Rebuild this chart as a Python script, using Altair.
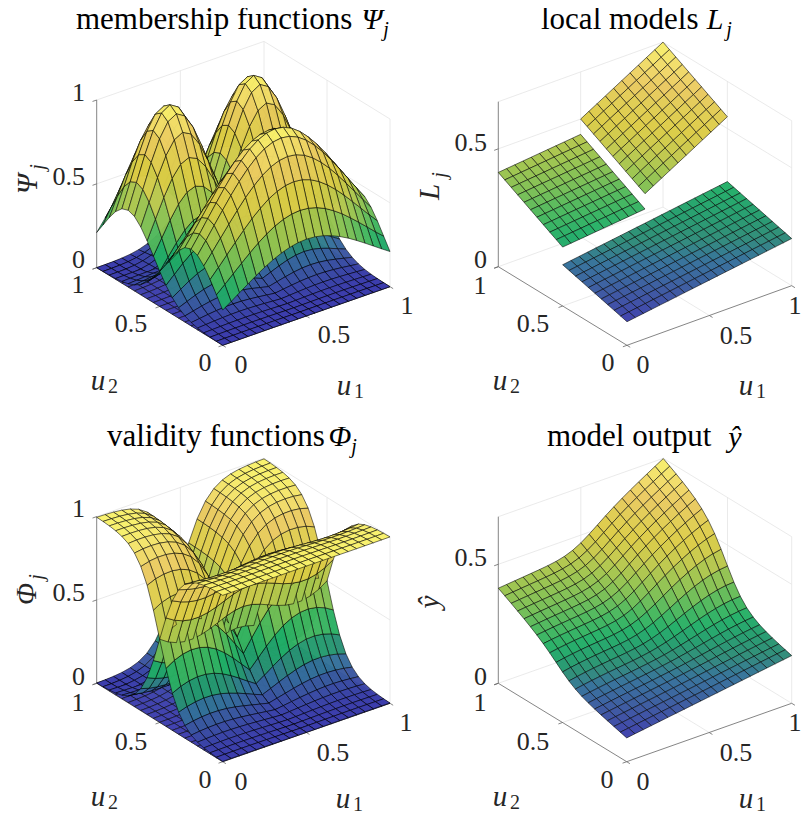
import altair as alt
import numpy as np

# NOTE: values below are 1D profiles and plane coefficients.
# The 2D grids are DERIVED from them (psi = product of profiles, phi = psi / sum(psi),
# yhat = sum(phi * L)), not read cell by cell.
u_grid = [0, .05, .1, .15, .2, .25, .3, .35, .4, .45, .5, .55, .6, .65, .7, .75, .8, .85, .9, .95, 1]
profile_low = [.458, .607, .755, .882, .969, 1, .969, .882, .755, .607, .458, .325, .216, .135, .0796, .0439, .0228, .0111, .0051, .0022, .00088]
profile_high = [.00088, .0022, .0051, .0111, .0228, .0439, .0796, .135, .216, .325, .458, .607, .755, .882, .969, 1, .969, .882, .755, .607, .458]
profile_wide = [.458, .531, .607, .682, .755, .823, .882, .932, .969, .992, 1, .992, .969, .932, .882, .823, .755, .682, .607, .531, .458]
# plane z = c0 + c1*u1 + c2*u2, and the patch each local model covers (u1 from,to, u2 from,to)
plane_coef = [[.1, .1, .15], [.1, .07, .3], [0, .4, .3]]
plane_span = [[0, 1, 0, .5], [0, .5, .5, 1], [.5, 1, .5, 1]]
plane_cells = [[20, 10], [10, 10], [10, 10]]

cmap_pos = [0, .06, .125, .17, .22, .28, .35, .42, .5, .58, .67, .75, .83, .92, 1]
cmap_rgb = [[60, 60, 172], [58, 85, 160], [51, 112, 154], [44, 138, 120], [34, 156, 108], [32, 174, 102],
            [70, 183, 92], [118, 190, 84], [158, 196, 76], [196, 200, 74], [220, 203, 68], [224, 204, 80],
            [233, 200, 95], [242, 222, 104], [249, 243, 106]]

# pixel anchors: left corner, front corner, right corner, z-axis height, z max
panels = [
    dict(L=(96.7, 267.7), F=(222.7, 345.3), R=(390, 286.7), H=167.7, zmax=1.0, clim=(0, 1), zt=[0, .5, 1]),
    dict(L=(498.3, 266.7), F=(627, 345.3), R=(791.7, 285.7), H=165, zmax=.7, clim=(.1, .7), zt=[0, .5]),
    dict(L=(96.7, 683.3), F=(222.7, 761.7), R=(390, 703.3), H=166.7, zmax=1.0, clim=(0, 1), zt=[0, .5, 1]),
    dict(L=(498.3, 683.3), F=(626.7, 761.7), R=(791.7, 703.3), H=166.6, zmax=.7, clim=(.1, .7), zt=[0, .5]),
]

u = np.array(u_grid)
low, high, wide = map(np.array, (profile_low, profile_high, profile_wide))
psi = [np.outer(wide, low), np.outer(low, high), np.outer(high, high)]
total = sum(psi)
phi = [p / total for p in psi]
U1, U2 = np.meshgrid(u, u, indexing="ij")
yhat = sum(f * (c[0] + c[1] * U1 + c[2] * U2) for f, c in zip(phi, plane_coef))

def plane(i):
    a, b, c, d = plane_span[i]
    n1, n2 = plane_cells[i]
    p1, p2 = np.meshgrid(np.linspace(a, b, n1 + 1), np.linspace(c, d, n2 + 1), indexing="ij")
    co = plane_coef[i]
    return p1, p2, co[0] + co[1] * p1 + co[2] * p2

surfaces = [
    [(U1, U2, s) for s in psi],
    [plane(i) for i in range(3)],
    [(U1, U2, s) for s in phi],
    [(U1, U2, yhat)],
]

def to_hex(t):
    rgb = [np.interp(t, cmap_pos, [c[k] for c in cmap_rgb]) for k in range(3)]
    return "#%02x%02x%02x" % tuple(int(round(v)) for v in rgb)

def projector(p):
    F = np.array(p["F"]); e1 = np.array(p["R"]) - F; e2 = np.array(p["L"]) - F
    hz = p["H"] / p["zmax"]
    def f(a, b, c):
        return F[0] + e1[0] * a + e2[0] * b, F[1] + e1[1] * a + e2[1] * b - hz * c
    M = np.array([[e1[0], e2[0], 0], [e1[1], e2[1], -p["H"]]])
    n = np.cross(M[0], M[1])
    if n[0] > 0:
        n = -n
    depth = lambda a, b, c: n[0] * a + n[1] * b + n[2] * c / p["zmax"]
    return f, depth

features = []
grid_rows, axis_rows = [], []
for p, surfs in zip(panels, surfaces):
    f, depth = projector(p)
    quads = []
    for A, B, Z in surfs:
        for i in range(A.shape[0] - 1):
            for j in range(A.shape[1] - 1):
                idx = [(i, j), (i + 1, j), (i + 1, j + 1), (i, j + 1)]
                ca, cb, cz = [np.mean([M[k] for k in idx]) for M in (A, B, Z)]
                ring = [f(A[k], B[k], Z[k]) for k in idx]
                ring.append(ring[0])
                quads.append((depth(ca, cb, cz), ring, cz))
    quads.sort(key=lambda q: q[0])
    lo, hi = p["clim"]
    for _, ring, cz in quads:
        features.append({"type": "Feature",
                         "geometry": {"type": "Polygon",
                                      "coordinates": [[[round(x - 8, 2), round(y - 8, 2)] for x, y in ring]]},
                         "properties": {"fill": to_hex((cz - lo) / (hi - lo))}})
    top = p["zmax"]
    def seg(rows, a, b):
        x, y = f(*a); x2, y2 = f(*b)
        rows.append({"x": x, "y": y, "x2": x2, "y2": y2})
    for z in [v for v in p["zt"] if v > 0] + ([top] if top not in p["zt"] else []):
        seg(grid_rows, (0, 1, z), (1, 1, z)); seg(grid_rows, (1, 1, z), (1, 0, z))
    seg(grid_rows, (0, 1, 0), (1, 1, 0)); seg(grid_rows, (1, 1, 0), (1, 0, 0))
    seg(grid_rows, (1, 1, 0), (1, 1, top)); seg(grid_rows, (1, 0, 0), (1, 0, top))
    seg(grid_rows, (.5, 1, 0), (.5, 1, top)); seg(grid_rows, (1, .5, 0), (1, .5, top))
    seg(grid_rows, (.5, 0, 0), (.5, 1, 0)); seg(grid_rows, (0, .5, 0), (1, .5, 0))
    seg(axis_rows, (0, 1, 0), (0, 1, top)); seg(axis_rows, (0, 1, 0), (0, 0, 0)); seg(axis_rows, (0, 0, 0), (1, 0, 0))
    for z in p["zt"]:
        seg(axis_rows, (0, 1, z), (-.025, 1, z))
    for v in [0, .5, 1]:
        seg(axis_rows, (0, v, 0), (-.025, v, 0)); seg(axis_rows, (v, 0, 0), (v, -.025, 0))

# text tables: text, x, y, size
tick_center = [
    ["1", 78, 285], ["0.5", 131, 324], ["0", 205, 363], ["0", 241, 365], ["0.5", 334, 335], ["1", 407, 306],
    ["1", 480, 286], ["0.5", 533, 324], ["0", 608, 363], ["0", 643, 365], ["0.5", 736, 336], ["1", 795, 306],
    ["1", 78, 703], ["0.5", 131, 742], ["0", 205, 780], ["0", 241, 782], ["0.5", 333, 753], ["1", 406, 723],
    ["1", 480, 703], ["0.5", 533, 742], ["0", 607, 780], ["0", 643, 782], ["0.5", 736, 753], ["1", 795, 723],
]
tick_right = [
    ["1", 85, 93], ["0.5", 85, 177], ["0", 85, 260],
    ["0.5", 487, 143], ["0", 487, 260],
    ["1", 85, 509], ["0.5", 85, 593], ["0", 85, 677],
    ["0.5", 487, 558], ["0", 487, 677],
]
axis_titles = [[105, 382, 351, 387], [507, 382, 753, 387], [105, 798, 350, 800], [507, 798, 753, 800]]
titles = [["membership functions", 76, 20], ["local models", 541, 20],
          ["validity functions", 107, 437], ["model output", 547, 437]]
title_symbols = [["Ψ", 372, 20], ["L", 715, 20], ["Φ", 340, 437], ["ŷ", 735, 438]]
title_subs = [["j", 386, 30], ["j", 729, 30], ["j", 354, 447]]
z_symbols = [["Ψ", 28, 184], ["L", 430, 192], ["Φ", 27, 594], ["ŷ", 430, 602]]
z_subs = [["j", 38, 167], ["j", 440, 175], ["j", 37, 577]]

def rows(tbl):
    return [{"t": t, "x": x, "y": y} for t, x, y in tbl]

X = lambda f="x": alt.X(f"{f}:Q", scale=alt.Scale(domain=[8, 802], range=[0, 794]), axis=None)
Y = lambda f="y": alt.Y(f"{f}:Q", scale=alt.Scale(domain=[8, 815], range=[0, 807]), axis=None)

def rule_layer(data, color, w):
    return alt.Chart(alt.Data(values=data)).mark_rule(color=color, strokeWidth=w).encode(
        x=X(), y=Y(), x2="x2:Q", y2="y2:Q")

FONT = "Liberation Serif"
def text_layer(tbl, size, color="#262626", style="normal", align="center", angle=0):
    return alt.Chart(alt.Data(values=rows(tbl))).mark_text(
        font=FONT, fontSize=size, color=color, fontStyle=style, align=align, baseline="middle", angle=angle
    ).encode(x=X(), y=Y(), text="t:N")

shapes = alt.Chart(alt.Data(values=features)).mark_geoshape(
    stroke="#000000", strokeWidth=.65, strokeOpacity=.85, fillOpacity=.97
).encode(fill=alt.Fill("properties.fill:N", scale=None)).project(type="identity", scale=1, translate=[0, 0])

u_sym = [["u", r[0] - 7, r[1] - 1] for r in axis_titles] + [["u", r[2] - 7, r[3] - 1] for r in axis_titles]
u_sub = [["2", r[0] + 8, r[1] + 5] for r in axis_titles] + [["1", r[2] + 8, r[3] + 5] for r in axis_titles]

layers = [
    rule_layer(grid_rows, "#e4e4e4", .8),
    rule_layer(axis_rows, "#666666", .8),
    shapes,
    text_layer(tick_center, 26),
    text_layer(tick_right, 26, align="right"),
    text_layer(u_sym, 29, style="italic"),
    text_layer(u_sub, 20),
    text_layer(titles, 31, color="#000000", align="left"),
    text_layer(title_symbols, 30, color="#000000", style="italic"),
    text_layer(title_subs, 20, color="#000000", style="italic"),
    text_layer(z_symbols, 29, style="italic", angle=270),
    text_layer(z_subs, 20, style="italic", angle=270),
]

chart = alt.layer(*layers).properties(width=794, height=807, padding=0, autosize="none").configure_view(stroke=None)
chart.save("out.html", embed_options={"renderer": "svg", "actions": False})
